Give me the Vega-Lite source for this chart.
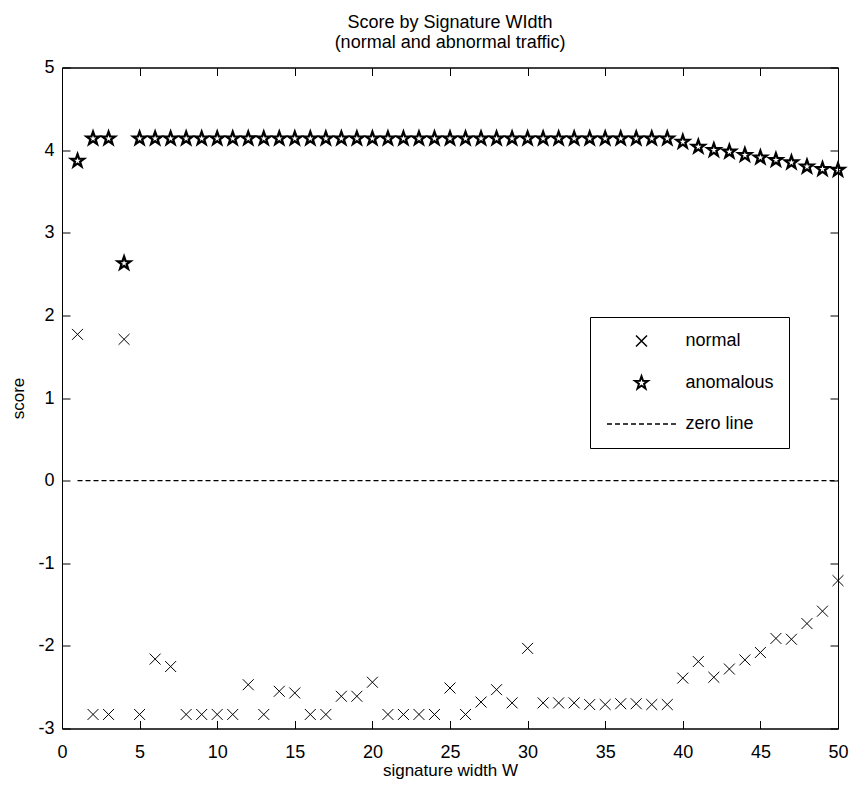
{
  "$schema": "https://vega.github.io/schema/vega-lite/v6.json",
  "width": 776,
  "height": 661,
  "autosize": {"type": "none"},
  "padding": {"left": 62, "top": 67.5, "right": 11.5, "bottom": 60.5},
  "background": "white",
  "title": {
    "text": ["Score by Signature WIdth", "(normal and abnormal traffic)"],
    "anchor": "middle",
    "font": "Liberation Sans",
    "fontSize": 18,
    "fontWeight": "normal",
    "color": "black",
    "lineHeight": 20,
    "offset": 7
  },
  "config": {
    "view": {"stroke": "black", "strokeWidth": 1},
    "axis": {
      "grid": false,
      "domainColor": "black",
      "tickColor": "black",
      "tickWidth": 1,
      "tickSize": -8,
      "labelFont": "Liberation Sans",
      "labelFontSize": 18,
      "labelColor": "black",
      "titleFont": "Liberation Sans",
      "titleFontSize": 17,
      "titleFontWeight": "normal",
      "titleColor": "black"
    },
    "legend": {
      "labelFont": "Liberation Sans",
      "labelFontSize": 18,
      "labelColor": "black"
    }
  },
  "layer": [
    {
      "data": {
        "values": [
          {"W": 1, "score": 1.77, "series": "normal"},
          {"W": 2, "score": -2.83, "series": "normal"},
          {"W": 3, "score": -2.83, "series": "normal"},
          {"W": 4, "score": 1.71, "series": "normal"},
          {"W": 5, "score": -2.83, "series": "normal"},
          {"W": 6, "score": -2.16, "series": "normal"},
          {"W": 7, "score": -2.25, "series": "normal"},
          {"W": 8, "score": -2.83, "series": "normal"},
          {"W": 9, "score": -2.83, "series": "normal"},
          {"W": 10, "score": -2.83, "series": "normal"},
          {"W": 11, "score": -2.83, "series": "normal"},
          {"W": 12, "score": -2.47, "series": "normal"},
          {"W": 13, "score": -2.83, "series": "normal"},
          {"W": 14, "score": -2.55, "series": "normal"},
          {"W": 15, "score": -2.57, "series": "normal"},
          {"W": 16, "score": -2.83, "series": "normal"},
          {"W": 17, "score": -2.83, "series": "normal"},
          {"W": 18, "score": -2.61, "series": "normal"},
          {"W": 19, "score": -2.61, "series": "normal"},
          {"W": 20, "score": -2.44, "series": "normal"},
          {"W": 21, "score": -2.83, "series": "normal"},
          {"W": 22, "score": -2.83, "series": "normal"},
          {"W": 23, "score": -2.83, "series": "normal"},
          {"W": 24, "score": -2.83, "series": "normal"},
          {"W": 25, "score": -2.51, "series": "normal"},
          {"W": 26, "score": -2.83, "series": "normal"},
          {"W": 27, "score": -2.68, "series": "normal"},
          {"W": 28, "score": -2.53, "series": "normal"},
          {"W": 29, "score": -2.69, "series": "normal"},
          {"W": 30, "score": -2.03, "series": "normal"},
          {"W": 31, "score": -2.69, "series": "normal"},
          {"W": 32, "score": -2.69, "series": "normal"},
          {"W": 33, "score": -2.69, "series": "normal"},
          {"W": 34, "score": -2.71, "series": "normal"},
          {"W": 35, "score": -2.71, "series": "normal"},
          {"W": 36, "score": -2.7, "series": "normal"},
          {"W": 37, "score": -2.7, "series": "normal"},
          {"W": 38, "score": -2.71, "series": "normal"},
          {"W": 39, "score": -2.71, "series": "normal"},
          {"W": 40, "score": -2.39, "series": "normal"},
          {"W": 41, "score": -2.19, "series": "normal"},
          {"W": 42, "score": -2.38, "series": "normal"},
          {"W": 43, "score": -2.28, "series": "normal"},
          {"W": 44, "score": -2.17, "series": "normal"},
          {"W": 45, "score": -2.08, "series": "normal"},
          {"W": 46, "score": -1.91, "series": "normal"},
          {"W": 47, "score": -1.92, "series": "normal"},
          {"W": 48, "score": -1.73, "series": "normal"},
          {"W": 49, "score": -1.58, "series": "normal"},
          {"W": 50, "score": -1.21, "series": "normal"},
          {"W": 1, "score": 3.87, "series": "anomalous"},
          {"W": 2, "score": 4.14, "series": "anomalous"},
          {"W": 3, "score": 4.14, "series": "anomalous"},
          {"W": 4, "score": 2.63, "series": "anomalous"},
          {"W": 5, "score": 4.14, "series": "anomalous"},
          {"W": 6, "score": 4.14, "series": "anomalous"},
          {"W": 7, "score": 4.14, "series": "anomalous"},
          {"W": 8, "score": 4.14, "series": "anomalous"},
          {"W": 9, "score": 4.14, "series": "anomalous"},
          {"W": 10, "score": 4.14, "series": "anomalous"},
          {"W": 11, "score": 4.14, "series": "anomalous"},
          {"W": 12, "score": 4.14, "series": "anomalous"},
          {"W": 13, "score": 4.14, "series": "anomalous"},
          {"W": 14, "score": 4.14, "series": "anomalous"},
          {"W": 15, "score": 4.14, "series": "anomalous"},
          {"W": 16, "score": 4.14, "series": "anomalous"},
          {"W": 17, "score": 4.14, "series": "anomalous"},
          {"W": 18, "score": 4.14, "series": "anomalous"},
          {"W": 19, "score": 4.14, "series": "anomalous"},
          {"W": 20, "score": 4.14, "series": "anomalous"},
          {"W": 21, "score": 4.14, "series": "anomalous"},
          {"W": 22, "score": 4.14, "series": "anomalous"},
          {"W": 23, "score": 4.14, "series": "anomalous"},
          {"W": 24, "score": 4.14, "series": "anomalous"},
          {"W": 25, "score": 4.14, "series": "anomalous"},
          {"W": 26, "score": 4.14, "series": "anomalous"},
          {"W": 27, "score": 4.14, "series": "anomalous"},
          {"W": 28, "score": 4.14, "series": "anomalous"},
          {"W": 29, "score": 4.14, "series": "anomalous"},
          {"W": 30, "score": 4.14, "series": "anomalous"},
          {"W": 31, "score": 4.14, "series": "anomalous"},
          {"W": 32, "score": 4.14, "series": "anomalous"},
          {"W": 33, "score": 4.14, "series": "anomalous"},
          {"W": 34, "score": 4.14, "series": "anomalous"},
          {"W": 35, "score": 4.14, "series": "anomalous"},
          {"W": 36, "score": 4.14, "series": "anomalous"},
          {"W": 37, "score": 4.14, "series": "anomalous"},
          {"W": 38, "score": 4.14, "series": "anomalous"},
          {"W": 39, "score": 4.14, "series": "anomalous"},
          {"W": 40, "score": 4.1, "series": "anomalous"},
          {"W": 41, "score": 4.04, "series": "anomalous"},
          {"W": 42, "score": 4.0, "series": "anomalous"},
          {"W": 43, "score": 3.98, "series": "anomalous"},
          {"W": 44, "score": 3.94, "series": "anomalous"},
          {"W": 45, "score": 3.91, "series": "anomalous"},
          {"W": 46, "score": 3.88, "series": "anomalous"},
          {"W": 47, "score": 3.85, "series": "anomalous"},
          {"W": 48, "score": 3.8, "series": "anomalous"},
          {"W": 49, "score": 3.77, "series": "anomalous"},
          {"W": 50, "score": 3.76, "series": "anomalous"}
        ]
      },
      "mark": {"type": "point", "filled": false, "size": 225, "color": "black", "opacity": 1},
      "encoding": {
        "x": {
          "field": "W", "type": "quantitative",
          "scale": {"domain": [0, 50], "nice": false, "zero": false},
          "axis": {"orient": "bottom", "values": [0, 5, 10, 15, 20, 25, 30, 35, 40, 45, 50], "title": "signature width W", "labelPadding": 23, "titlePadding": 1, "labelFlush": false}
        },
        "y": {
          "field": "score", "type": "quantitative",
          "scale": {"domain": [-3, 5], "nice": false, "zero": false},
          "axis": {"orient": "left", "values": [-3, -2, -1, 0, 1, 2, 3, 4, 5], "title": "score", "labelPadding": 16, "titlePadding": 10, "labelExpr": "'' + datum.value", "labelFlush": false}
        },
        "shape": {
          "field": "series", "type": "nominal",
          "scale": {
            "domain": ["normal", "anomalous", "zero line"],
            "range": [
              "M-0.73,-0.73L0.73,0.73M-0.73,0.73L0.73,-0.73",
              "M0,-1L0.235,-0.324L0.951,-0.309L0.38,0.124L0.588,0.809L0,0.4L-0.588,0.809L-0.38,0.124L-0.951,-0.309L-0.235,-0.324ZM0,-0.8L0.188,-0.259L0.761,-0.247L0.304,0.099L0.47,0.647L0,0.32L-0.47,0.647L-0.304,0.099L-0.761,-0.247L-0.188,-0.259Z",
              "M-4.6,0L-3.933,0M-3.533,0L-2.867,0M-2.467,0L-1.8,0M-1.4,0L-0.733,0M-0.333,0L0.333,0M0.733,0L1.4,0M1.8,0L2.467,0M2.867,0L3.533,0M3.933,0L4.6,0"
            ]
          },
          "legend": {
            "title": null,
            "orient": "none",
            "legendX": 528,
            "legendY": 249.5,
            "direction": "vertical",
            "padding": 15,
            "rowPadding": 22,
            "symbolSize": 225,
            "symbolOffset": 27.5,
            "labelOffset": 35,
            "symbolStrokeColor": "black",
            "symbolFillColor": "transparent",
            "symbolStrokeWidth": 1.5,
            "symbolOpacity": 1,
            "strokeColor": "black",
            "fillColor": "white",
            "cornerRadius": 0
          }
        },
        "strokeWidth": {"condition": {"test": "datum.series === 'anomalous'", "value": 1.8}, "value": 1}
      }
    },
    {
      "data": {"values": [{"W": 1, "score": 0}, {"W": 50, "score": 0}]},
      "mark": {"type": "line", "color": "black", "strokeWidth": 1.3, "strokeDash": [5, 3]},
      "encoding": {
        "x": {"field": "W", "type": "quantitative", "axis": {"orient": "top", "values": [0, 5, 10, 15, 20, 25, 30, 35, 40, 45, 50], "labels": false, "title": null}},
        "y": {"field": "score", "type": "quantitative", "axis": {"orient": "right", "values": [-3, -2, -1, 0, 1, 2, 3, 4, 5], "labels": false, "title": null}}
      }
    }
  ],
  "resolve": {"axis": {"x": "independent", "y": "independent"}}
}
